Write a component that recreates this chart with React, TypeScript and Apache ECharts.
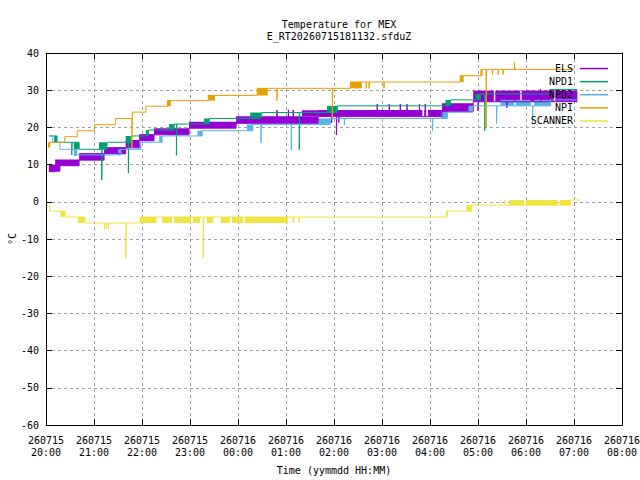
import React, { useEffect, useRef } from 'react'
import * as echarts from 'echarts'

type Pt = [number, number]
type Band = [number, number, number, number]

// x values are hours after 260715 20:00, y values are °C
const xTickLabels = [
    '260715\n20:00', '260715\n21:00', '260715\n22:00', '260715\n23:00',
    '260716\n00:00', '260716\n01:00', '260716\n02:00', '260716\n03:00',
    '260716\n04:00', '260716\n05:00', '260716\n06:00', '260716\n07:00',
    '260716\n08:00',
]

const seriesNames = ['ELS', 'NPD1', 'NPD2', 'NPI', 'SCANNER']
const seriesColors = ['#9400d3', '#009e73', '#56b4e9', '#e69f00', '#f0e442']

// step points: value holds from x until the next point
const elsLine: Pt[] = [
    [0.06, 8.1], [0.19, 9.7], [0.69, 11.2], [1.21, 12.9], [1.66, 14.5],
    [1.94, 16.4], [2.25, 18.0], [2.98, 19.8], [3.96, 21.1],
    [4.81, 24.7], [4.82, 21.1], [5.05, 24.7], [5.06, 21.1], [5.15, 24.7], [5.16, 21.1],
    [5.67, 22.9],
    [5.95, 21.2], [5.96, 22.9], [6.05, 18.0], [6.06, 22.9], [6.1, 21.3], [6.11, 22.9],
    [6.9, 26.3], [6.91, 22.9], [7.15, 26.3], [7.16, 22.9], [7.38, 26.3], [7.39, 22.9],
    [7.52, 26.3], [7.53, 22.9], [7.78, 26.3], [7.79, 22.9], [7.9, 26.3], [7.91, 22.9],
    [8.25, 24.2], [8.9, 26.9], [9.0, 24.4], [9.01, 26.9], [9.6, 25.2], [9.61, 26.9],
    [10.3, 30.3], [10.31, 26.9], [11.07, 26.9],
]
// dense two-level flicker drawn as filled ranges: [x0, x1, low, high]
const elsBands: Band[] = [
    [0.06, 0.3, 8.1, 9.9], [0.19, 0.69, 9.7, 11.4], [0.69, 1.21, 11.2, 13.1],
    [1.21, 1.66, 12.9, 14.7], [1.66, 1.94, 14.5, 16.6], [1.94, 2.25, 16.4, 18.2],
    [2.25, 2.98, 18.0, 19.8], [2.98, 3.96, 19.8, 21.5], [3.96, 5.67, 21.1, 23.0],
    [5.33, 5.67, 23.0, 24.6], [5.67, 7.84, 22.9, 24.7], [7.88, 7.92, 22.9, 24.7],
    [7.96, 8.28, 22.9, 24.7], [8.25, 8.9, 24.2, 26.5], [8.9, 9.33, 26.9, 29.9],
    [9.36, 9.88, 26.9, 29.9], [9.91, 10.58, 26.9, 29.9], [10.61, 11.07, 26.9, 29.9],
]

const npd1Line: Pt[] = [
    [0.06, 17.7], [0.23, 16.0], [0.536, 12.6], [0.546, 16.0], [0.69, 14.1],
    [1.162, 5.9], [1.172, 14.1], [1.27, 16.0], [1.716, 7.7], [1.726, 16.0],
    [1.77, 17.7], [2.13, 19.3], [2.67, 20.9], [2.717, 12.5], [2.727, 20.9],
    [3.4, 22.4], [4.484, 24.0], [5.276, 14.0], [5.286, 24.0], [6.069, 25.8],
    [8.425, 27.4], [9.051, 29.0], [9.141, 19.1], [9.151, 29.0], [10.5, 30.2],
    [11.07, 30.2],
]
const npd1Bands: Band[] = [
    [0.17, 0.23, 16.0, 17.7], [0.58, 0.69, 14.1, 16.0], [1.105, 1.27, 14.1, 16.0],
    [1.66, 1.77, 15.8, 17.7], [2.08, 2.13, 17.7, 19.3], [2.565, 2.67, 19.3, 20.9],
    [3.295, 3.4, 20.9, 22.4], [4.254, 4.484, 22.6, 24.0], [5.854, 6.069, 24.0, 25.8],
    [8.321, 8.425, 25.8, 27.4], [8.947, 9.051, 27.4, 29.0],
]

const npd2Line: Pt[] = [
    [0.06, 17.7], [0.14, 16.0], [0.29, 14.1], [0.64, 12.6], [1.56, 14.1],
    [1.975, 16.0], [2.419, 17.7], [3.253, 19.1], [4.311, 20.8],
    [4.478, 15.9], [4.488, 20.8], [5.109, 13.9], [5.119, 20.8], [5.923, 22.4],
    [6.215, 20.6], [6.225, 22.4], [8.05, 19.1], [8.06, 22.4], [8.363, 24.1],
    [8.884, 25.8], [9.385, 20.9], [9.395, 25.8], [10.135, 20.9], [10.145, 25.8],
    [10.51, 27.4], [11.07, 27.4],
]
const npd2Bands: Band[] = [
    [0.58, 0.64, 12.3, 14.1], [1.5, 1.56, 12.6, 14.1], [1.94, 1.975, 14.1, 16.0],
    [2.357, 2.419, 16.0, 17.7], [3.155, 3.253, 17.7, 19.1], [4.186, 4.311, 19.1, 20.8],
    [5.673, 5.923, 20.8, 22.4], [8.231, 8.363, 22.4, 24.1], [8.8, 8.884, 24.1, 25.8],
    [9.47, 9.75, 25.8, 27.4], [9.78, 10.1, 25.8, 27.4], [10.17, 10.51, 25.8, 27.4],
]

const npiLine: Pt[] = [
    [0.04, 14.7], [0.08, 16.0], [0.39, 17.5], [0.65, 19.1], [1.01, 20.7],
    [1.45, 22.4], [1.79, 14.5], [1.8, 24.1], [2.08, 25.7], [2.54, 27.2],
    [3.38, 28.6], [4.4, 30.5], [4.81, 27.2], [4.82, 30.5], [5.965, 22.4],
    [5.975, 30.5], [6.34, 32.2], [6.5, 30.5], [6.51, 32.2], [6.67, 30.5],
    [6.68, 32.2], [6.73, 30.5], [6.74, 32.2], [7.04, 30.5], [7.05, 32.2],
    [8.63, 33.9], [9.08, 35.6], [9.17, 20.0], [9.18, 35.6], [9.3, 34.2],
    [9.31, 35.6], [9.42, 34.2], [9.43, 35.6], [9.52, 34.2], [9.53, 35.6],
    [9.76, 37.5], [9.77, 35.6], [10.99, 35.6],
]
const npiBands: Band[] = [
    [0.04, 0.08, 14.7, 16.0], [2.52, 2.6, 25.7, 27.2], [3.38, 3.52, 27.2, 28.6],
    [4.4, 4.62, 28.6, 30.5], [6.34, 6.58, 30.5, 32.2], [8.63, 8.7, 32.2, 33.9],
    [9.05, 9.09, 33.9, 35.6],
]

const scannerLine: Pt[] = [
    [0.06, -1.0], [0.08, -2.5], [0.4, -4.1], [0.813, -5.7],
    [1.22, -7.3], [1.23, -5.7], [1.26, -7.3], [1.27, -5.7], [1.3, -7.3], [1.31, -5.7],
    [1.664, -15.1], [1.674, -5.7], [1.96, -4.1], [3.274, -15.1], [3.284, -4.1],
    [5.15, -5.7], [5.16, -4.1], [5.27, -5.7], [5.28, -4.1], [8.36, -2.5],
    [8.87, -0.9], [9.55, 0.5], [9.56, -0.9], [10.93, 0.5], [11.12, 0.5],
]
const scannerBands: Band[] = [
    [0.3, 0.4, -4.1, -2.5], [0.667, 0.813, -5.7, -4.1],
    [1.96, 2.3, -5.7, -4.1], [2.42, 2.63, -5.7, -4.1], [2.67, 3.02, -5.7, -4.1],
    [3.06, 3.21, -5.7, -4.1], [3.35, 3.49, -5.7, -4.1], [3.64, 3.83, -5.7, -4.1],
    [3.87, 4.11, -5.7, -4.1], [4.14, 5.04, -5.7, -4.1],
    [8.33, 8.36, -4.1, -2.5], [8.76, 8.87, -2.5, -0.9],
    [9.65, 9.96, -0.9, 0.5], [10.0, 10.66, -0.9, 0.5], [10.7, 10.93, -0.9, 0.5],
]

const FONT = 'DejaVu Sans Mono'
const GRID_LINE = { color: '#a0a0a0', width: 1, type: [3, 3] }

const App: React.FC = () => {
    const chartRef = useRef<HTMLDivElement>(null)

    useEffect(() => {
        const chart = echarts.init(chartRef.current, null, { renderer: 'svg' })

        const lines = [elsLine, npd1Line, npd2Line, npiLine, scannerLine]
        const bands = [elsBands, npd1Bands, npd2Bands, npiBands, scannerBands]

        const series: any[] = []
        seriesNames.forEach((name, i) => {
            const color = seriesColors[i]
            series.push({
                name,
                type: 'line',
                data: lines[i],
                step: 'end',
                symbol: 'none',
                showSymbol: false,
                silent: true,
                lineStyle: { color, width: 1 },
                itemStyle: { color },
            })
            series.push({
                name: name + ' band',
                type: 'custom',
                data: bands[i],
                encode: { x: [0, 1], y: [2, 3] },
                silent: true,
                clip: true,
                renderItem: (params: any, api: any) => {
                    const a = api.coord([api.value(0), api.value(3)])
                    const b = api.coord([api.value(1), api.value(2)])
                    return {
                        type: 'rect',
                        shape: { x: a[0], y: a[1], width: Math.max(b[0] - a[0], 1), height: b[1] - a[1] },
                        style: { fill: color },
                    }
                },
            })
        })

        const tickStyle = { show: true, inside: true, length: 6, lineStyle: { color: '#000' } }
        const axisLine = { show: true, onZero: false, lineStyle: { color: '#000', width: 1 } }
        const labelText = { fontFamily: FONT, fontSize: 10, color: '#000' }

        const option = {
            animation: false,
            title: {
                text: 'Temperature for MEX',
                subtext: 'E_RT20260715181132.sfduZ',
                left: 334,
                textAlign: 'center',
                top: 14,
                itemGap: 2,
                textStyle: { ...labelText, fontWeight: 'normal' },
                subtextStyle: { ...labelText },
            },
            legend: {
                data: seriesNames,
                orient: 'vertical',
                right: 27,
                top: 57,
                align: 'right',
                icon: 'rect',
                itemWidth: 28,
                itemHeight: 1.5,
                itemGap: 0,
                selectedMode: false,
                textStyle: { ...labelText, lineHeight: 13.1, width: 46, padding: [0, 2, 0, 0] },
            },
            grid: { left: 46, right: 18, top: 53, bottom: 55, containLabel: false, outerBoundsMode: 'none' },
            xAxis: [
                {
                    type: 'value',
                    position: 'bottom',
                    min: 0,
                    max: 12,
                    interval: 1,
                    name: 'Time (yymmdd HH:MM)',
                    nameLocation: 'middle',
                    nameGap: 40,
                    nameMoveOverlap: false,
                    nameTextStyle: labelText,
                    axisLine,
                    axisTick: tickStyle,
                    axisLabel: {
                        ...labelText,
                        lineHeight: 12,
                        margin: 9,
                        formatter: (v: number) => xTickLabels[Math.round(v)],
                    },
                    splitLine: { show: true, lineStyle: GRID_LINE },
                },
                {
                    type: 'value',
                    position: 'top',
                    min: 0,
                    max: 12,
                    interval: 1,
                    axisLine,
                    axisTick: tickStyle,
                    axisLabel: { show: false },
                    splitLine: { show: false },
                },
            ],
            yAxis: [
                {
                    type: 'value',
                    position: 'left',
                    min: -60,
                    max: 40,
                    interval: 10,
                    name: '°C',
                    nameLocation: 'middle',
                    nameGap: 29,
                    nameRotate: 90,
                    nameMoveOverlap: false,
                    nameTextStyle: labelText,
                    axisLine,
                    axisTick: tickStyle,
                    axisLabel: { ...labelText, margin: 7 },
                    splitLine: { show: true, lineStyle: GRID_LINE },
                },
                {
                    type: 'value',
                    position: 'right',
                    min: -60,
                    max: 40,
                    interval: 10,
                    axisLine,
                    axisTick: tickStyle,
                    axisLabel: { show: false },
                    splitLine: { show: false },
                },
            ],
            series,
        }

        chart.setOption(option)

        return () => {
            chart.dispose()
        }
    }, [])

    return (
        <div
            ref={chartRef}
            style={{ position: 'absolute', left: 0, top: 0, width: '640px', height: '480px', background: '#fff' }}
        />
    )
}

export default App
